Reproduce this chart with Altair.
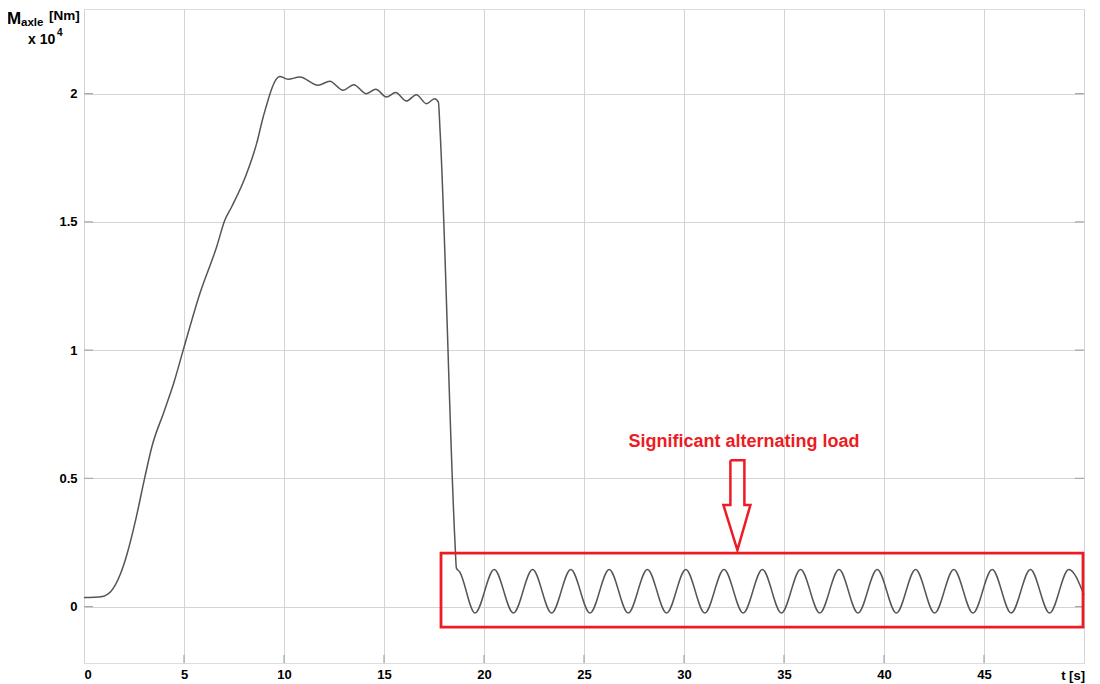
import altair as alt
import pandas as pd

# ---- data (t in s, M in 1e4 Nm) ----
t_main = [0, 0.5, 0.85, 1.33, 1.83, 2.16, 2.58, 3.03, 3.4, 4.0, 4.5, 4.96,
          5.79, 6.63, 7.04, 7.38, 8.13, 8.63, 8.96, 9.79, 10.2, 10.79,
          11.7, 12.29, 12.95, 13.49, 14.12, 14.59, 15.12, 15.58, 16.12, 16.62,
          17.12, 17.53, 17.72, 17.8, 18.55, 18.62, 18.78]
m_main = [0.035, 0.036, 0.038, 0.058, 0.129, 0.207, 0.337, 0.50, 0.625,
          0.760, 0.875, 1.0, 1.22, 1.402, 1.506, 1.558, 1.688, 1.805, 1.909,
          2.067, 2.056, 2.065, 2.033, 2.048, 2.013, 2.035, 2.0, 2.017,
          1.987, 2.004, 1.971, 1.996, 1.961, 1.980, 1.967, 1.86, 0.25, 0.15, 0.136]
t_trough = [19.55, 21.47, 23.38, 25.30, 27.21, 29.13, 31.04, 32.96, 34.87,
            36.79, 38.70, 40.62, 42.53, 44.45, 46.36, 48.28]
t_peak = [20.51, 22.43, 24.34, 26.26, 28.17, 30.09, 32.00, 33.92, 35.83,
          37.75, 39.66, 41.58, 43.49, 45.41, 47.32, 49.24]
m_trough = -0.025
m_peak = 0.145
t_end, m_end = 50.0, 0.045

x_ticks = [0, 5, 10, 15, 20, 25, 30, 35, 40, 45, 50]
y_ticks = [0, 0.5, 1, 1.5, 2]

# annotation
box_t = [17.85, 49.95]
box_m = [-0.08, 0.2085]
arrow_t = [32.32, 33.02, 33.02, 33.32, 32.67, 31.97, 32.32, 32.32]
arrow_m = [0.571, 0.571, 0.396, 0.396, 0.22, 0.396, 0.396, 0.571]
note_text = "Significant alternating load"
note_t, note_m = 33.0, 0.643

RED = "#ed1c24"
FONT = "Liberation Sans"

rows = [(t, m) for t, m in zip(t_main, m_main)]
rows += [(t, m_trough) for t in t_trough] + [(t, m_peak) for t in t_peak]
rows.append((t_end, m_end))
curve = pd.DataFrame(rows, columns=["t", "M"]).sort_values("t")

xs = alt.Scale(domain=[0, 50], nice=False, zero=False)
ys = alt.Scale(domain=[-0.22, 2.33], nice=False, zero=False)

base_x = alt.X("t:Q", scale=xs, axis=alt.Axis(
    values=x_ticks, grid=True, ticks=False, domain=False, title=None,
    labelExpr="datum.value == 50 ? '' : datum.label",
    labelFont=FONT, labelFontSize=13, labelFontWeight="bold", labelColor="black",
    labelPadding=5, gridColor="#d4d4d4", gridWidth=1))
base_y = alt.Y("M:Q", scale=ys, axis=alt.Axis(
    values=y_ticks, grid=True, ticks=False, domain=False, title=None, format="~g",
    labelFont=FONT, labelFontSize=13, labelFontWeight="bold", labelColor="black",
    labelPadding=7, gridColor="#d4d4d4", gridWidth=1))

line = alt.Chart(curve).mark_line(color="#555555", strokeWidth=1.5,
                                  interpolate="monotone").encode(x=base_x, y=base_y)

ytk = pd.DataFrame({"M": y_ticks})
xtk = pd.DataFrame({"t": x_ticks[1:-1]})
tick_l = alt.Chart(ytk).mark_rule(color="#a8a8a8", strokeWidth=1.2).encode(
    y=alt.Y("M:Q", scale=ys), x=alt.value(0), x2=alt.value(9))
tick_r = alt.Chart(ytk).mark_rule(color="#a8a8a8", strokeWidth=1.2).encode(
    y=alt.Y("M:Q", scale=ys), x=alt.value(991), x2=alt.value(1000))
tick_b = alt.Chart(xtk).mark_rule(color="#a8a8a8", strokeWidth=1.2).encode(
    x=alt.X("t:Q", scale=xs), y=alt.value(646), y2=alt.value(654))

box = alt.Chart(pd.DataFrame({"t": [box_t[0]], "t2": [box_t[1]],
                              "m": [box_m[0]], "m2": [box_m[1]]})).mark_rect(
    fill=None, fillOpacity=0, stroke=RED, strokeWidth=2.8).encode(
    x=alt.X("t:Q", scale=xs), x2="t2:Q", y=alt.Y("m:Q", scale=ys), y2="m2:Q")

arrow = alt.Chart(pd.DataFrame({"t": arrow_t, "M": arrow_m,
                                "o": list(range(len(arrow_t)))})).mark_line(
    color=RED, strokeWidth=2.5, strokeJoin="miter").encode(
    x=alt.X("t:Q", scale=xs), y=alt.Y("M:Q", scale=ys), order="o:O")

note = alt.Chart(pd.DataFrame({"t": [note_t], "M": [note_m], "s": [note_text]})).mark_text(
    color=RED, font=FONT, fontSize=18, fontWeight="bold", align="center",
    baseline="middle").encode(x=alt.X("t:Q", scale=xs), y=alt.Y("M:Q", scale=ys), text="s:N")

def lab(txt, x, y, size, align="left"):
    return alt.Chart(pd.DataFrame({"s": [txt]})).mark_text(
        font=FONT, fontSize=size, fontWeight="bold", color="black",
        align=align, baseline="alphabetic").encode(
        x=alt.value(x), y=alt.value(y), text="s:N")

labels = [
    lab("M", -77, 15, 17),
    lab("axle", -63, 17, 11.5),
    lab("[Nm]", -35, 11, 13.5),
    lab("x 10", -56, 35, 14),
    lab("4", -27, 27, 10),
    lab("t [s]", 1001, 671, 13, align="right"),
]

chart = alt.layer(line, tick_l, tick_r, tick_b, box, arrow, note, *labels).properties(
    width=1000, height=654,
    padding={"left": 76, "top": 1, "right": 8, "bottom": 22},
    autosize=alt.AutoSizeParams(type="none"),
).configure_view(stroke="#9a9a9a", strokeWidth=1.5).configure(background="white")

chart.save("out.html", embed_options={"renderer": "svg", "actions": False})
